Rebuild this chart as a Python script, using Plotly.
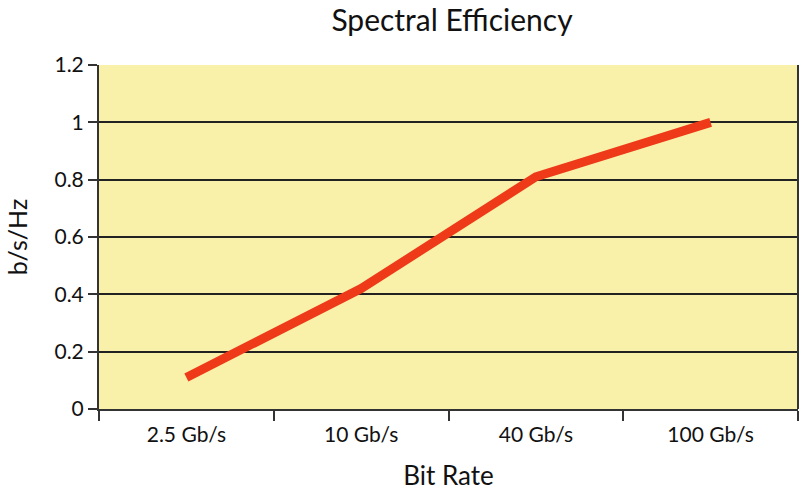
import plotly.graph_objects as go

categories = ["2.5 Gb/s", "10 Gb/s", "40 Gb/s", "100 Gb/s"]
efficiency = [0.11, 0.42, 0.81, 1.0]
y_ticks = [0, 0.2, 0.4, 0.6, 0.8, 1, 1.2]
y_tick_labels = ["0", "0.2", "0.4", "0.6", "0.8", "1", "1.2"]

font_family = "Lato, 'Open Sans', sans-serif"

fig = go.Figure()
fig.add_trace(go.Scatter(
    x=categories, y=efficiency, mode="lines",
    line=dict(color="#EE3A18", width=9),
    showlegend=False, hoverinfo="skip",
))

fig.update_layout(
    width=800, height=496,
    margin=dict(l=99, r=2, t=65, b=87),
    paper_bgcolor="white",
    plot_bgcolor="#F9F0AA",
    title=dict(text="Spectral Efficiency", x=0.565, xanchor="center",
               y=0.958, yanchor="middle",
               font=dict(family=font_family, size=30, color="#111")),
    font=dict(family=font_family, color="#111"),
)

fig.update_xaxes(
    type="category", range=[-0.5, 3.5],
    showgrid=False, showline=True, linecolor="#333", linewidth=2,
    ticks="outside", tickson="boundaries", ticklen=10, tickwidth=2, tickcolor="#333",
    ticklabelstandoff=6,
    tickfont=dict(size=21, family=font_family, color="#111"),
    title=dict(text="Bit Rate", font=dict(size=26, family=font_family, color="#111"), standoff=22),
    mirror=False,
)
fig.update_yaxes(
    range=[0, 1.2], tickvals=y_ticks, ticktext=y_tick_labels,
    showgrid=True, gridcolor="#222", gridwidth=1.5,
    showline=True, linecolor="#333", linewidth=2,
    ticks="outside", ticklen=9, tickwidth=2, tickcolor="#333",
    tickfont=dict(size=21, family=font_family, color="#111"),
    title=dict(text="b/s/Hz", font=dict(size=25, family=font_family, color="#111"), standoff=20),
    zeroline=False,
)

# right border
fig.add_shape(type="line", xref="paper", yref="paper", x0=1, x1=1, y0=0, y1=1,
              line=dict(color="#333", width=2))

fig.write_html("out.html")
